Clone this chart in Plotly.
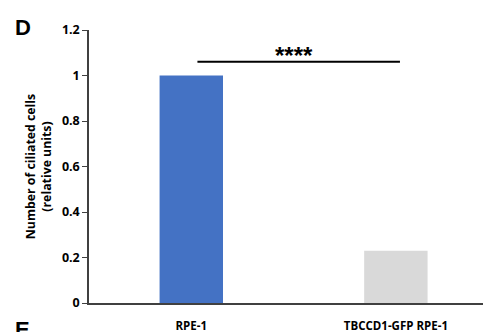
import plotly.graph_objects as go

categories = ["RPE-1", "TBCCD1-GFP RPE-1"]
values = [1.0, 0.23]
colors = ["#4472C4", "#D9D9D9"]
y_ticks = [0, 0.2, 0.4, 0.6, 0.8, 1, 1.2]
y_tick_labels = ["<b>0</b>", "<b>0.2</b>", "<b>0.4</b>", "<b>0.6</b>", "<b>0.8</b>", "<b>1</b>", "<b>1.2</b>"]
sig_label = "****"
sig_y = 1.06
sig_x = [0.03, 1.02]

# page body has an 8px margin; the figure is sized/positioned to compensate
OFF = 8
W, H = 491 - OFF, 332 - OFF
L, R, T, B = 89 - OFF, 0, 30 - OFF, 29

fig = go.Figure()
fig.add_trace(go.Bar(
    x=[0, 1], y=values, marker=dict(color=colors, line=dict(width=0)),
    width=0.31, showlegend=False,
))
fig.add_trace(go.Scatter(
    x=sig_x, y=[sig_y, sig_y], mode="lines",
    line=dict(color="black", width=2), showlegend=False, hoverinfo="skip",
))
fig.add_annotation(x=0.5, y=sig_y, text="<b>" + sig_label + "</b>", showarrow=False,
                   xref="x", yref="y", yanchor="bottom", yshift=-9,
                   font=dict(family="Liberation Sans", size=24, color="black"))

fig.add_annotation(x=13 - OFF, y=13 - OFF, text="<b>D</b>", showarrow=False, xref="paper", yref="paper",
                   xanchor="left", yanchor="top", font=dict(family="Liberation Sans", size=22, color="black"))
fig.add_annotation(x=13 - OFF, y=315 - OFF, text="<b>E</b>", showarrow=False, xref="paper", yref="paper",
                   xanchor="left", yanchor="top", font=dict(family="Liberation Sans", size=22, color="black"))

# convert paper pixel positions
for a in fig.layout.annotations:
    if a.xref == "paper":
        a.x = (a.x - L) / (W - L - R)
        a.y = 1 - (a.y - T) / (H - T - B)

fig.update_layout(
    width=W, height=H,
    margin=dict(l=L, r=R, t=T, b=B, pad=0),
    paper_bgcolor="white", plot_bgcolor="white",
    font=dict(family="Open Sans", color="black"),
    xaxis=dict(
        range=[-0.5, 1.465], tickmode="array", tickvals=[0, 1],
        ticktext=["<b>" + c + "</b>" for c in categories],
        showline=True, linecolor="#404040", linewidth=1.5,
        showgrid=False, zeroline=False, ticks="", ticklabelstandoff=11,
        tickfont=dict(size=11.5, family="Open Sans", color="black"),
    ),
    yaxis=dict(
        range=[0, 1.2], tickmode="array", tickvals=y_ticks, ticktext=y_tick_labels,
        showline=True, linecolor="#404040", linewidth=1.5,
        showgrid=False, zeroline=False, ticks="outside", ticklen=5, tickcolor="#404040",
        tickfont=dict(size=12.5, family="Open Sans", color="black"),
        title=dict(text="<b>Number of ciliated cells<br>(relative units)</b>",
                   font=dict(size=12.3, family="Open Sans", color="black"), standoff=8),
    ),
)

fig.write_html("out.html")
